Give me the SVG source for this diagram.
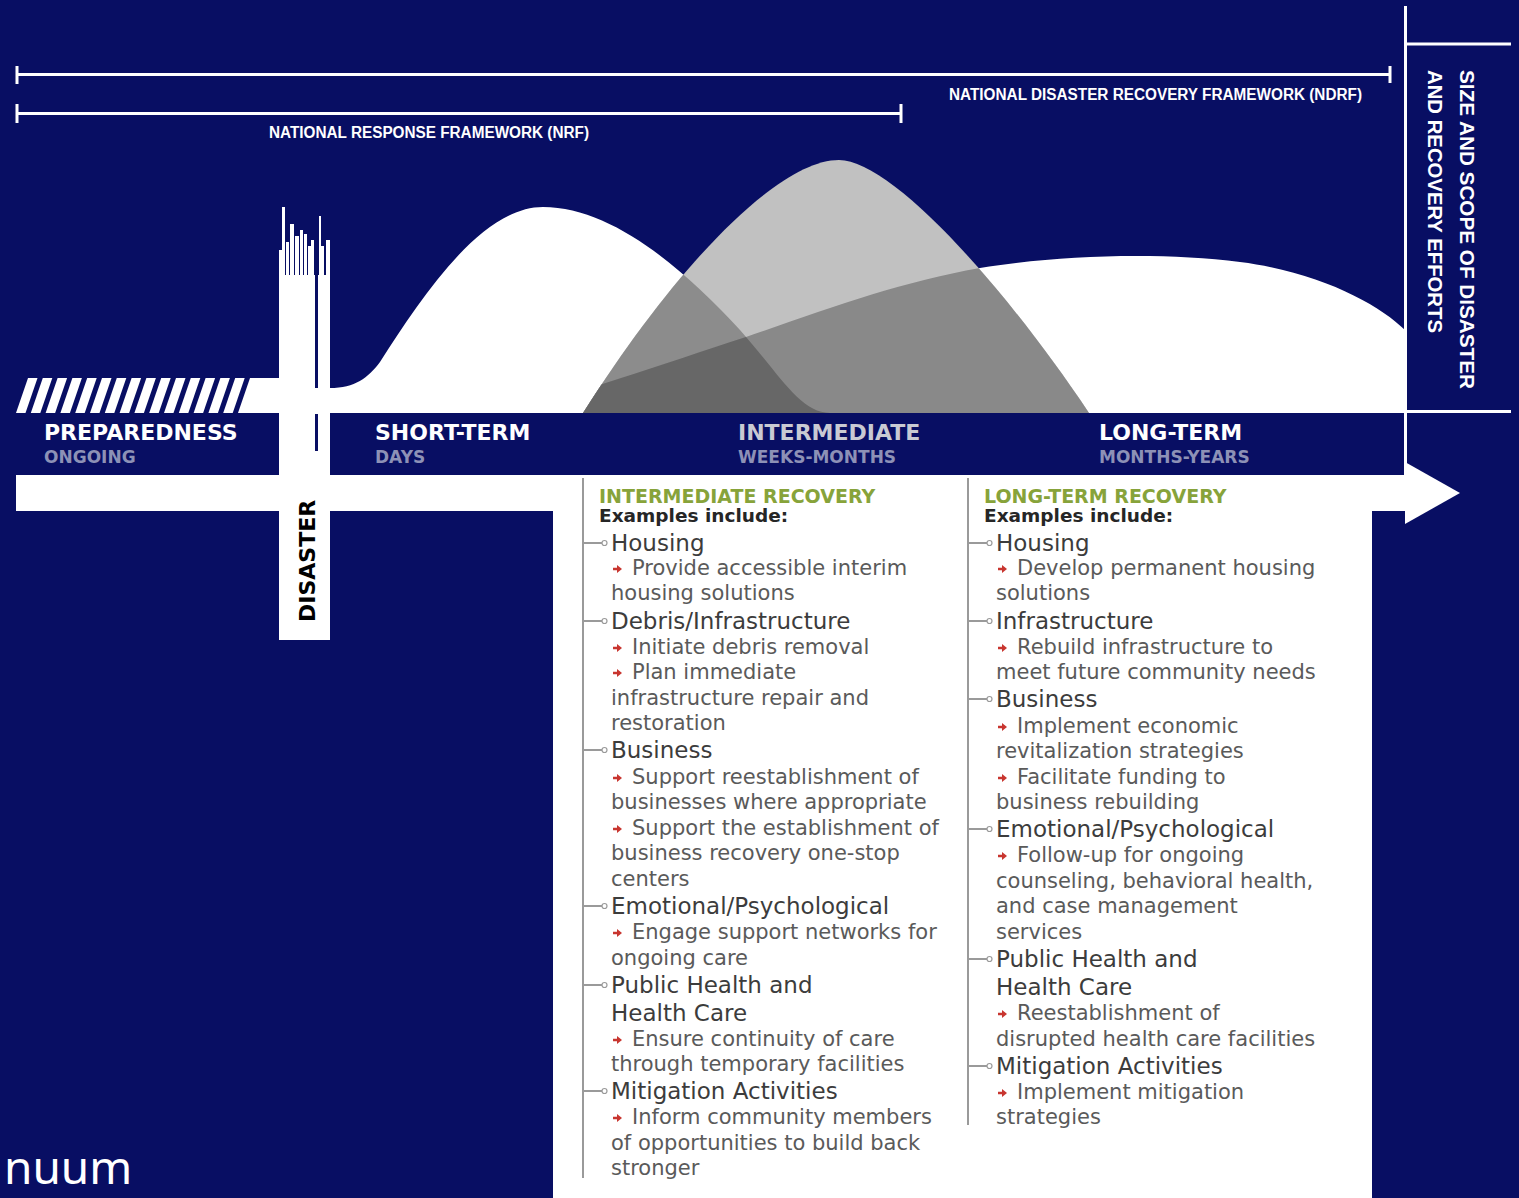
<svg xmlns="http://www.w3.org/2000/svg" width="1519" height="1198" viewBox="0 0 1519 1198">
<defs>
<style>
.bg{fill:#080e63}
.w{fill:#fff}
.rl{stroke:#fff;stroke-width:3;fill:none}
.fw{font-family:"Liberation Sans",Arial,sans-serif;font-weight:bold;fill:#fff}
.lab{font-family:"DejaVu Sans",Verdana,sans-serif;font-weight:bold;font-size:22px;fill:#fff}
.sub{font-family:"DejaVu Sans",Verdana,sans-serif;font-weight:bold;font-size:17px;fill:#8d91b6}
.hd{font-family:"DejaVu Sans",Verdana,sans-serif;font-weight:bold;font-size:19px;fill:#87a33a}
.ex{font-family:"DejaVu Sans",Verdana,sans-serif;font-weight:bold;font-size:18.5px;fill:#262626}
.cat{font-family:"DejaVu Sans",Verdana,sans-serif;font-size:23px;fill:#3c3c3c}
.it{font-family:"DejaVu Sans",Verdana,sans-serif;font-size:21px;fill:#5a5a5a}
.tree{stroke:#9a9a9a;stroke-width:2;fill:none}
.knob{fill:#fff;stroke:#9a9a9a;stroke-width:1.2}
</style>
<path id="ra" d="M0,-1.2 H4 V-4 L9,0 L4,4 V1.2 H0 Z" fill="#c8352f"/>
<path id="pS" d="M330,388 C355,388 368,378 380,362 C420,300 480,207 543,207 C610,207 680,265 740,330 C780,375 800,413 830,413 L330,413 Z"/>
<path id="pL" d="M500,413 C560,400 660,365 746,337 C830,308 900,282 980,268 C1060,255 1160,252 1240,262 C1320,272 1380,305 1405,330 L1405,413 Z"/>
<path id="pI" d="M583,413 C680,260 780,160 839,160 C890,160 1000,280 1089,413 Z"/>
<clipPath id="cpS"><use href="#pS"/></clipPath>
<clipPath id="cpL"><use href="#pL"/></clipPath>
<clipPath id="cpH"><rect x="16" y="378" width="240" height="35"/></clipPath>
</defs>

<rect class="bg" x="0" y="0" width="1519" height="1198"/>

<g id="ranges">
  <path class="rl" d="M17,74.5 H1390 M17,66 V84 M1390,66 V83"/>
  <path class="rl" d="M17,113.5 H901 M17,104 V123 M901,104 V123"/>
  <text class="fw" x="949" y="100" font-size="16" textLength="413" lengthAdjust="spacingAndGlyphs">NATIONAL DISASTER RECOVERY FRAMEWORK (NDRF)</text>
  <text class="fw" x="269" y="138" font-size="16" textLength="320" lengthAdjust="spacingAndGlyphs">NATIONAL RESPONSE FRAMEWORK (NRF)</text>
</g>

<g id="curves">
  <use href="#pS" class="w"/>
  <use href="#pL" class="w"/>
  <use href="#pI" fill="#c1c1c1"/>
  <g clip-path="url(#cpS)"><use href="#pI" fill="#8c8c8c"/></g>
  <g clip-path="url(#cpL)"><use href="#pI" fill="#898989"/></g>
  <g clip-path="url(#cpS)"><g clip-path="url(#cpL)"><use href="#pI" fill="#676767"/></g></g>
</g>

<g id="preparedness-hatch">
  <g clip-path="url(#cpH)" class="w">
    <polygon points="16,413 25.5,413 37.5,378 28,378"/>
    <polygon points="30.8,413 40.3,413 52.3,378 42.8,378"/>
    <polygon points="45.6,413 55.1,413 67.1,378 57.6,378"/>
    <polygon points="60.4,413 69.9,413 81.9,378 72.4,378"/>
    <polygon points="75.2,413 84.7,413 96.7,378 87.2,378"/>
    <polygon points="90,413 99.5,413 111.5,378 102,378"/>
    <polygon points="104.8,413 114.3,413 126.3,378 116.8,378"/>
    <polygon points="119.6,413 129.1,413 141.1,378 131.6,378"/>
    <polygon points="134.4,413 143.9,413 155.9,378 146.4,378"/>
    <polygon points="149.2,413 158.7,413 170.7,378 161.2,378"/>
    <polygon points="164,413 173.5,413 185.5,378 176,378"/>
    <polygon points="178.8,413 188.3,413 200.3,378 190.8,378"/>
    <polygon points="193.6,413 203.1,413 215.1,378 205.6,378"/>
    <polygon points="208.4,413 217.9,413 229.9,378 220.4,378"/>
    <polygon points="223.2,413 232.7,413 244.7,378 235.2,378"/>
  </g>
  <polygon class="w" points="238,413 280,413 280,378 250,378"/>
</g>

<g id="disaster">
  <rect class="w" x="279" y="275" width="51" height="365"/>
  <g class="w">
    <rect x="279" y="250" width="3" height="26"/>
    <rect x="282" y="207" width="3" height="69"/>
    <rect x="286" y="242" width="3" height="34"/>
    <rect x="290" y="224" width="4" height="52"/>
    <rect x="295" y="236" width="4" height="40"/>
    <rect x="300" y="230" width="3" height="46"/>
    <rect x="304" y="234" width="3" height="42"/>
    <rect x="308" y="246" width="3" height="30"/>
    <rect x="311" y="240" width="3" height="36"/>
    <rect x="319" y="216" width="2" height="60"/>
    <rect x="321" y="246" width="3" height="30"/>
    <rect x="326" y="240" width="4" height="36"/>
  </g>
  <rect class="bg" x="315" y="250" width="3" height="138"/>
  <rect class="bg" x="315" y="414" width="3" height="37"/>
  <text transform="translate(315,622) rotate(-90)" font-family="DejaVu Sans, Verdana, sans-serif" font-weight="bold" font-size="22" fill="#000">DISASTER</text>
</g>

<g id="phase-labels">
  <text class="lab" x="44" y="440">PREPAREDNESS</text>
  <text class="sub" x="44" y="463">ONGOING</text>
  <text class="lab" x="375" y="440">SHORT-TERM</text>
  <text class="sub" x="375" y="463">DAYS</text>
  <text class="lab" x="738" y="440" style="fill:#c9cad3">INTERMEDIATE</text>
  <text class="sub" x="738" y="463">WEEKS-MONTHS</text>
  <text class="lab" x="1099" y="440">LONG-TERM</text>
  <text class="sub" x="1099" y="463">MONTHS-YEARS</text>
</g>

<g id="scope-axis">
  <path class="rl" d="M1405.5,6 V476 M1405,44 H1511 M1405,411.5 H1511"/>
  <text class="fw" transform="translate(1460,70) rotate(90)" font-size="20" textLength="319" lengthAdjust="spacingAndGlyphs">SIZE AND SCOPE OF DISASTER</text>
  <text class="fw" transform="translate(1428,70) rotate(90)" font-size="20" textLength="263" lengthAdjust="spacingAndGlyphs">AND RECOVERY EFFORTS</text>
</g>

<g id="timeline-arrow">
  <rect class="w" x="16" y="475" width="263" height="36"/>
  <rect class="w" x="330" y="475" width="1077" height="36"/>
  <polygon class="w" points="1405,462 1460,493 1405,524"/>
</g>

<g id="examples-box">
  <rect class="w" x="553" y="475" width="819" height="723"/>
</g>

<g id="connectors">
  <path class="tree" d="M583,478 V1178 M583,543 H602 M583,621 H602 M583,750 H602 M583,906 H602 M583,985 H602 M583,1091 H602"/>
  <path class="tree" d="M968,478 V1125 M968,543 H987 M968,621 H987 M968,699 H987 M968,829 H987 M968,959 H987 M968,1066 H987"/>
  <g class="knob">
    <circle cx="604.5" cy="543" r="2.5"/><circle cx="604.5" cy="621" r="2.5"/><circle cx="604.5" cy="750" r="2.5"/>
    <circle cx="604.5" cy="906" r="2.5"/><circle cx="604.5" cy="985" r="2.5"/><circle cx="604.5" cy="1091" r="2.5"/>
    <circle cx="989.5" cy="543" r="2.5"/><circle cx="989.5" cy="621" r="2.5"/><circle cx="989.5" cy="699" r="2.5"/>
    <circle cx="989.5" cy="829" r="2.5"/><circle cx="989.5" cy="959" r="2.5"/><circle cx="989.5" cy="1066" r="2.5"/>
  </g>
</g>

<g id="intermediate-recovery">
  <text class="hd" x="599" y="503">INTERMEDIATE RECOVERY</text>
  <text class="ex" x="599" y="522">Examples include:</text>
  <text class="cat" x="611" y="551">Housing</text>
  <use href="#ra" x="613" y="569"/>
  <text class="it" x="632" y="575">Provide accessible interim</text>
  <text class="it" x="611" y="600">housing solutions</text>
  <text class="cat" x="611" y="629">Debris/Infrastructure</text>
  <use href="#ra" x="613" y="648"/>
  <text class="it" x="632" y="654">Initiate debris removal</text>
  <use href="#ra" x="613" y="673"/>
  <text class="it" x="632" y="679">Plan immediate</text>
  <text class="it" x="611" y="705">infrastructure repair and</text>
  <text class="it" x="611" y="730">restoration</text>
  <text class="cat" x="611" y="758">Business</text>
  <use href="#ra" x="613" y="778"/>
  <text class="it" x="632" y="784">Support reestablishment of</text>
  <text class="it" x="611" y="809">businesses where appropriate</text>
  <use href="#ra" x="613" y="829"/>
  <text class="it" x="632" y="835">Support the establishment of</text>
  <text class="it" x="611" y="860">business recovery one-stop</text>
  <text class="it" x="611" y="886">centers</text>
  <text class="cat" x="611" y="914">Emotional/Psychological</text>
  <use href="#ra" x="613" y="933"/>
  <text class="it" x="632" y="939">Engage support networks for</text>
  <text class="it" x="611" y="965">ongoing care</text>
  <text class="cat" x="611" y="993">Public Health and</text>
  <text class="cat" x="611" y="1021">Health Care</text>
  <use href="#ra" x="613" y="1040"/>
  <text class="it" x="632" y="1046">Ensure continuity of care</text>
  <text class="it" x="611" y="1071">through temporary facilities</text>
  <text class="cat" x="611" y="1099">Mitigation Activities</text>
  <use href="#ra" x="613" y="1118"/>
  <text class="it" x="632" y="1124">Inform community members</text>
  <text class="it" x="611" y="1150">of opportunities to build back</text>
  <text class="it" x="611" y="1175">stronger</text>
</g>

<g id="long-term-recovery">
  <text class="hd" x="984" y="503">LONG-TERM RECOVERY</text>
  <text class="ex" x="984" y="522">Examples include:</text>
  <text class="cat" x="996" y="551">Housing</text>
  <use href="#ra" x="998" y="569"/>
  <text class="it" x="1017" y="575">Develop permanent housing</text>
  <text class="it" x="996" y="600">solutions</text>
  <text class="cat" x="996" y="629">Infrastructure</text>
  <use href="#ra" x="998" y="648"/>
  <text class="it" x="1017" y="654">Rebuild infrastructure to</text>
  <text class="it" x="996" y="679">meet future community needs</text>
  <text class="cat" x="996" y="707">Business</text>
  <use href="#ra" x="998" y="727"/>
  <text class="it" x="1017" y="733">Implement economic</text>
  <text class="it" x="996" y="758">revitalization strategies</text>
  <use href="#ra" x="998" y="778"/>
  <text class="it" x="1017" y="784">Facilitate funding to</text>
  <text class="it" x="996" y="809">business rebuilding</text>
  <text class="cat" x="996" y="837">Emotional/Psychological</text>
  <use href="#ra" x="998" y="856"/>
  <text class="it" x="1017" y="862">Follow-up for ongoing</text>
  <text class="it" x="996" y="888">counseling, behavioral health,</text>
  <text class="it" x="996" y="913">and case management</text>
  <text class="it" x="996" y="939">services</text>
  <text class="cat" x="996" y="967">Public Health and</text>
  <text class="cat" x="996" y="995">Health Care</text>
  <use href="#ra" x="998" y="1014"/>
  <text class="it" x="1017" y="1020">Reestablishment of</text>
  <text class="it" x="996" y="1046">disrupted health care facilities</text>
  <text class="cat" x="996" y="1074">Mitigation Activities</text>
  <use href="#ra" x="998" y="1093"/>
  <text class="it" x="1017" y="1099">Implement mitigation</text>
  <text class="it" x="996" y="1124">strategies</text>
</g>

<g id="footer">
  <text x="4" y="1184" font-family="Noto Sans, Open Sans, sans-serif" font-size="46" fill="#fff">nuum</text>
</g>
</svg>
